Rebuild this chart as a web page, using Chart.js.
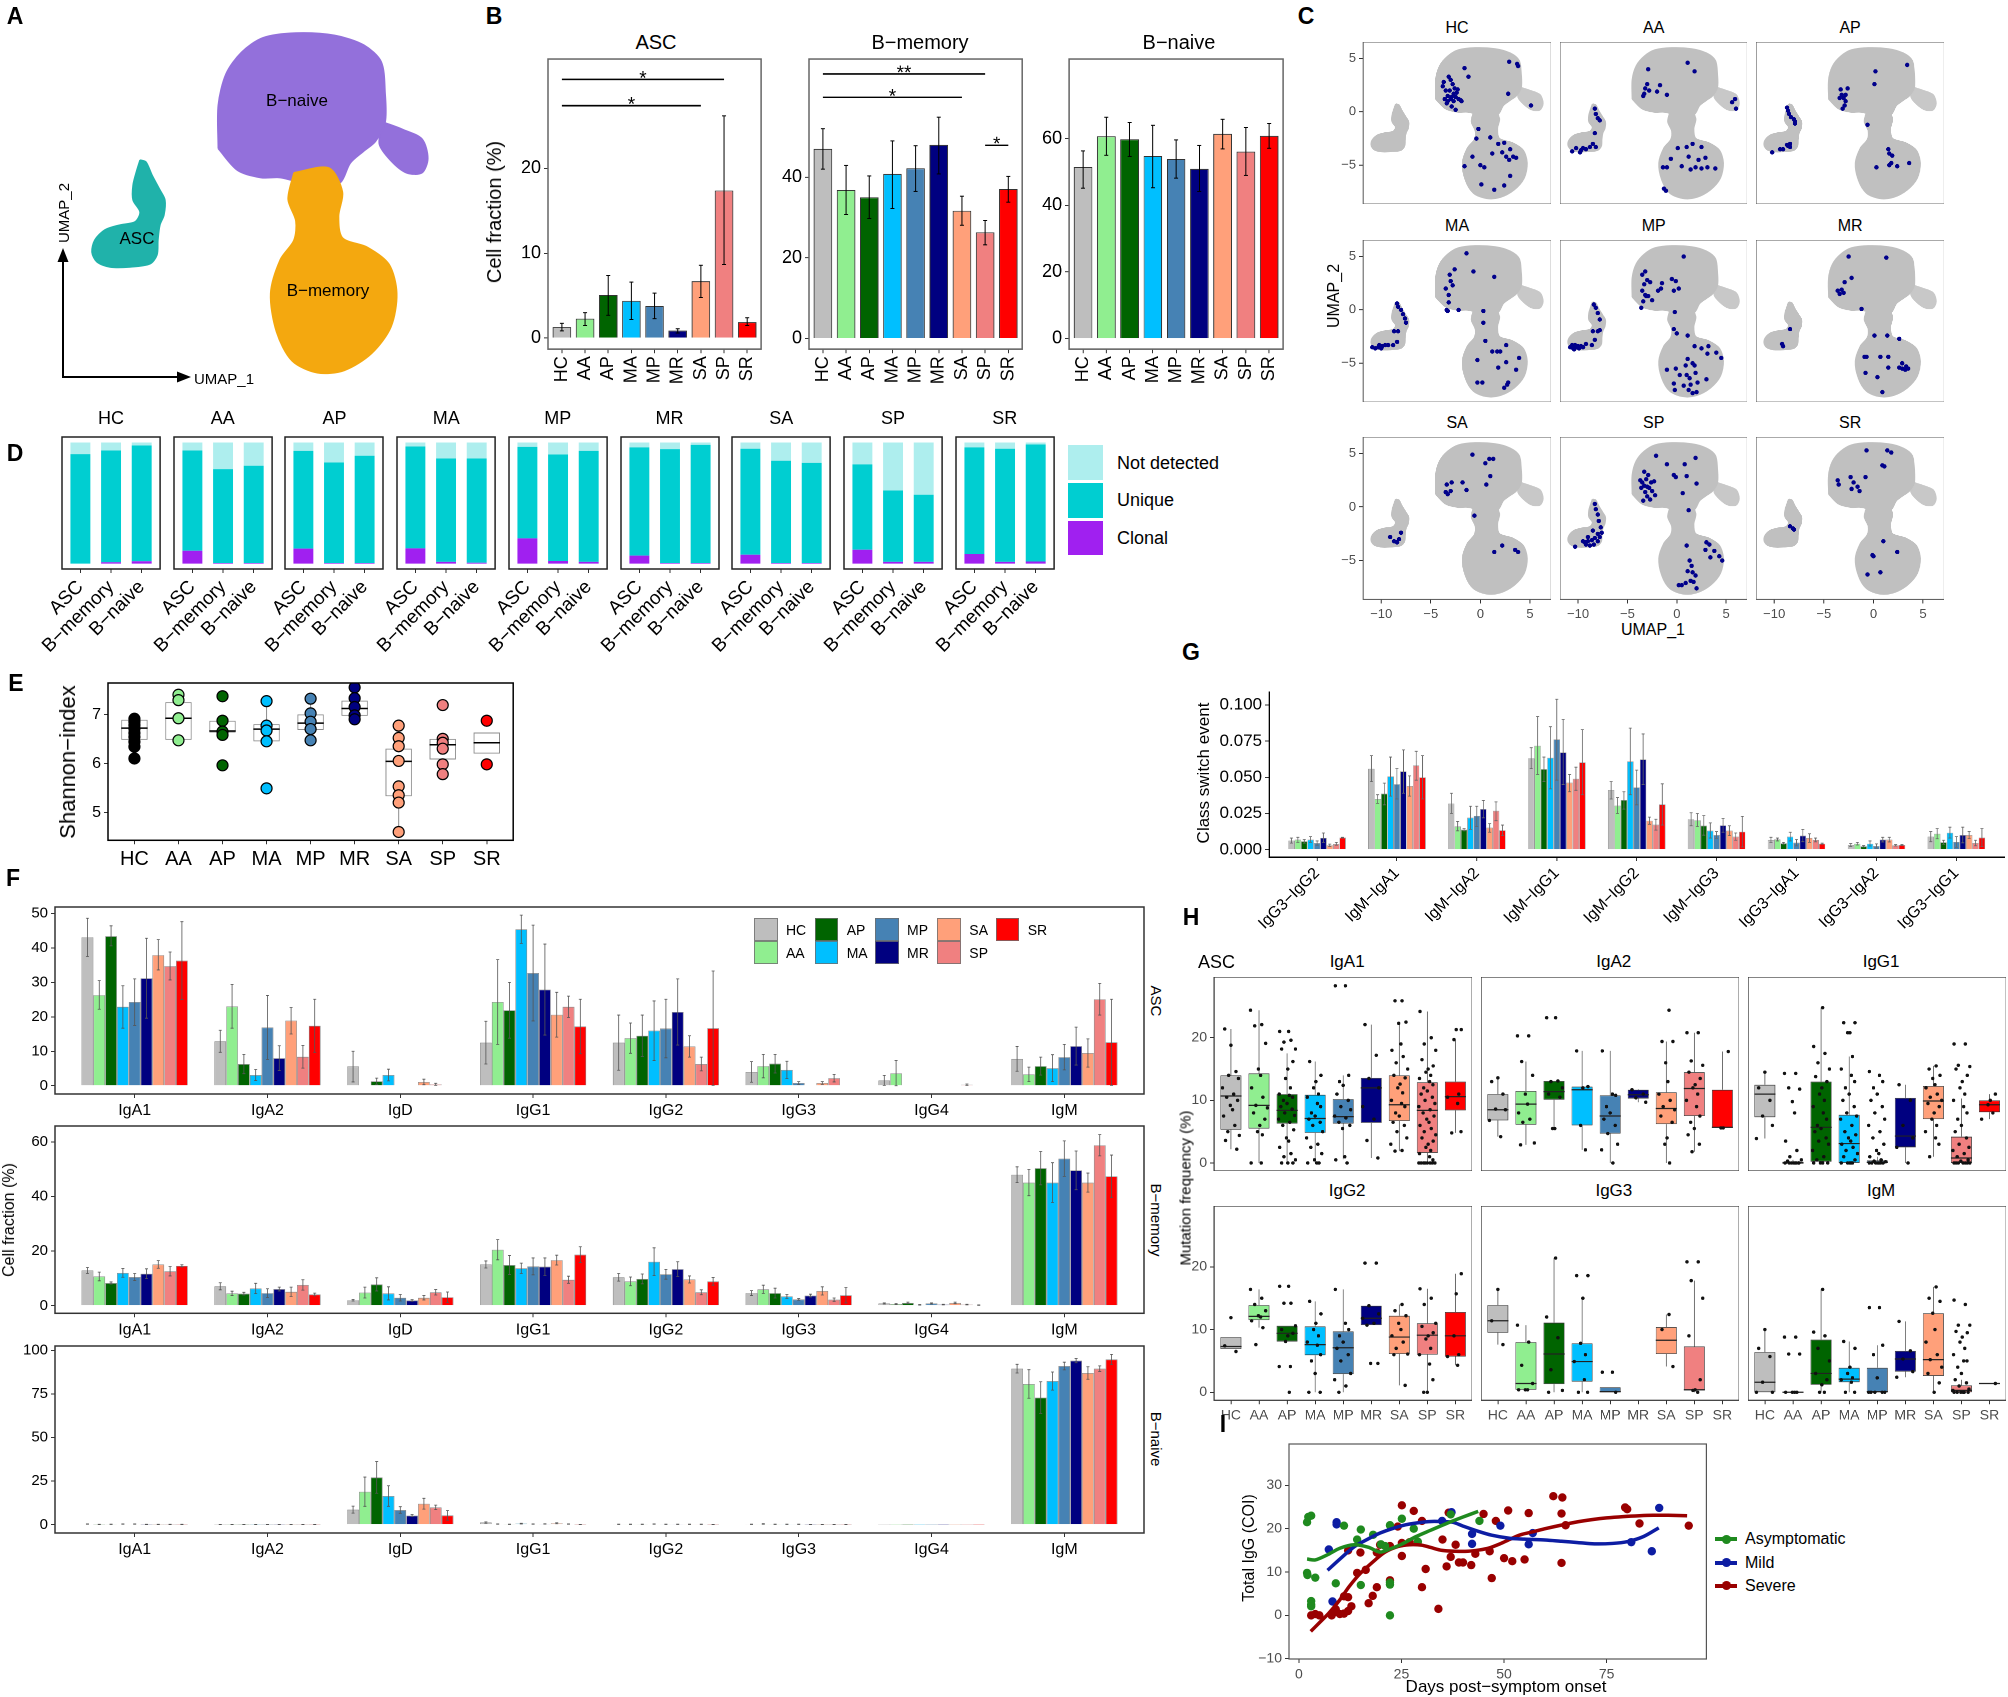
<!DOCTYPE html>
<html><head><meta charset="utf-8">
<script src="https://cdn.jsdelivr.net/npm/chart.js@4.4.1/dist/chart.umd.min.js"></script>
<style>
html,body{margin:0;padding:0;background:#fff;}
body{width:2008px;height:1697px;position:relative;overflow:hidden;font-family:"Liberation Sans",Arial,Helvetica,sans-serif;color:#000;}
.cv{position:absolute;}
.cv canvas{display:block;}
.t{position:absolute;white-space:nowrap;line-height:1;}
.k{position:absolute;box-sizing:border-box;}
</style></head><body>
<script>
// ================= DATA =================
const groups = ['HC','AA','AP','MA','MP','MR','SA','SP','SR'];
const groupColors = ['#BEBEBE','#90EE90','#006400','#00BFFF','#4682B4','#000080','#FFA07A','#F08080','#FF0000'];
const eColors = ['#000000','#90EE90','#006400','#00BFFF','#4682B4','#000080','#FFA07A','#F08080','#FF0000'];
const isotypes = ['IgA1','IgA2','IgD','IgG1','IgG2','IgG3','IgG4','IgM'];
const switchCats = ['IgG3−IgG2','IgM−IgA1','IgM−IgA2','IgM−IgG1','IgM−IgG2','IgM−IgG3','IgG3−IgA1','IgG3−IgA2','IgG3−IgG1'];
const dCells = ['ASC','B−memory','B−naive'];

// --- B: cell fraction per cluster ---
const bAsc = [1.3,2.3,5.1,4.4,3.8,0.9,6.7,17.4,1.9];
const bAscLo = [0.85,1.5,2.7,2.2,2.3,0.6,4.8,8.7,1.5];
const bAscHi = [1.75,3.0,7.4,6.6,5.3,1.1,8.6,26.2,2.4];
const bMem = [47.0,36.8,35.0,40.8,42.2,48.0,31.7,26.3,37.0];
const bMemLo = [42.0,30.7,29.7,32.3,36.5,40.8,28.1,23.2,33.8];
const bMemHi = [52.0,42.9,40.3,49.0,47.8,54.9,35.3,29.2,40.2];
const bNaive = [51.5,60.8,59.9,54.8,53.9,51.0,61.5,56.2,60.9];
const bNaiveLo = [45.2,55.1,54.7,45.3,48.2,44.2,57.0,49.0,57.2];
const bNaiveHi = [56.4,66.5,64.9,64.1,59.7,58.0,65.9,63.4,64.6];
const bAscSig = [{from:1,to:8,y:30.5,label:'*'},{from:1,to:7,y:27.4,label:'*'}];
const bMemSig = [{from:1,to:8,y:65.6,label:'**'},{from:1,to:7,y:59.8,label:'*'},{from:8,to:9,y:47.9,label:'*'}];

// --- D: clonality (per group: ASC, B-memory, B-naive) ---
const dClonal = [[0,1.2,2.0],[10.7,0.5,0.5],[12.4,0.5,0.5],[12.6,1.5,0.8],[20.9,2.2,1.5],[6.6,0.5,0.5],[7.4,0.5,0.5],[11.5,1.5,1.5],[8.0,1.5,1.8]];
const dUnique = [[90.4,92.2,95.5],[82.7,77.5,80.3],[80.7,83.0,88.5],[84.1,85.3,86.0],[75.5,87.9,91.6],[89.3,94.0,97.5],[87.4,84.4,82.7],[70.4,58.9,55.4],[87.9,93.3,96.5]];
const dNotDet = [[9.6,6.6,2.5],[6.6,22.0,19.2],[6.9,16.5,11.0],[3.3,13.2,13.2],[3.6,9.9,6.9],[4.1,5.5,2.0],[5.2,15.1,16.8],[18.1,39.6,43.1],[4.1,5.2,1.7]];

// --- E: Shannon index (q1, median, q3, whisker low, whisker high) ---
const eBox = [[6.48,6.72,6.89,6.10,6.91],[6.48,6.92,7.25,6.47,7.40],[6.63,6.66,6.87,6.58,6.87],[6.45,6.70,6.80,6.45,7.27],[6.68,6.82,7.00,6.47,7.32],[6.97,7.12,7.28,6.90,7.55],[5.33,6.04,6.30,4.60,6.77],[6.08,6.38,6.50,5.78,6.50],[6.20,6.42,6.63,6.20,6.63]];
const ePoints = [[6.91,6.85,6.78,6.71,6.62,6.54,6.44,6.34,6.10],[7.40,7.29,6.92,6.47],[7.37,6.87,6.65,6.58,5.96],[7.27,6.77,6.67,6.45,5.49],[7.32,7.02,6.85,6.70,6.47],[7.55,7.33,7.15,6.98,6.90],[6.77,6.52,6.35,6.05,5.53,5.35,5.20,4.60],[7.19,6.50,6.42,6.30,5.98,5.78],[6.87,5.98]];

// --- F: isotype fractions [isotype][group] ---
const fAscVal = [[43.1,26.3,43.4,22.9,24.3,31.2,37.9,34.7,36.3],[12.9,23.0,6.3,3.1,16.9,8.0,18.9,8.4,17.4],[5.6,0,1.3,3.1,0,0,1.1,0.4,0],[12.5,24.3,21.9,45.4,32.7,27.9,20.6,22.9,17.2],[12.5,13.8,14.5,16.0,16.6,21.4,11.4,6.3,16.7],[4.0,5.7,6.4,4.6,0.8,0,0.8,2.2,0],[1.5,3.6,0,0,0,0,0,0.3,0],[7.8,3.3,5.7,5.1,8.3,11.5,9.5,25.1,12.6]];
const fAscLo = [[37.5,22.2,40.6,16.7,17.5,19.6,33.6,30.7,25.0],[9.7,16.7,3.5,1.5,7.6,4.4,15.0,5.1,9.7],[1.1,0,0.4,1.4,0,0,0.3,0.1,0],[6.3,12.0,13.8,41.3,18.8,14.7,14.1,19.8,9.3],[4.5,9.4,8.5,7.3,8.1,11.8,8.3,4.3,0.1],[1.0,2.3,3.7,2.1,0.4,0,0.4,1.1,0],[0.1,0,0,0,0,0,0,0.1,0],[4.2,1.2,3.1,1.2,4.6,6.0,5.4,20.5,0.1]];
const fAscHi = [[48.6,30.5,46.4,29.0,31.0,42.8,42.4,38.8,47.6],[16.1,29.4,9.1,4.7,26.2,11.6,22.7,11.7,25.1],[10.0,0,2.2,4.8,0,0,1.9,0.7,0],[18.7,36.6,30.0,49.5,46.6,41.1,27.1,26.0,25.1],[20.5,18.2,20.5,24.6,25.1,31.0,14.5,8.3,33.3],[7.0,9.1,9.1,7.1,1.2,0,1.2,3.3,0],[3.0,7.3,0,0,0,0,0,0.5,0],[11.4,5.4,8.3,9.0,12.0,17.0,13.6,29.7,25.1]];
const fMemVal = [[12.9,10.7,8.3,12.0,10.5,11.7,15.1,12.6,14.6],[7.1,4.5,4.4,6.3,4.6,6.1,5.1,7.6,4.1],[2.0,4.8,7.8,4.5,2.9,1.9,2.9,4.9,3.1],[15.1,20.5,14.9,13.7,14.4,14.3,16.7,9.5,18.7],[10.4,8.9,9.8,16.1,11.5,13.4,9.6,4.9,8.9],[4.6,6.0,4.6,3.4,2.3,3.7,5.4,2.2,3.8],[0.8,0.6,1.0,0.3,0.8,0.4,1.0,0.4,0.2],[48.0,45.1,50.4,45.1,53.9,49.6,45.1,58.8,47.4]];
const fMemLo = [[11.8,9.1,7.9,10.4,9.2,9.9,13.7,10.9,14.2],[5.8,3.7,3.9,4.4,3.0,5.4,3.4,5.7,3.6],[1.7,2.8,5.4,2.1,1.7,1.6,2.1,3.9,1.2],[13.8,16.8,11.4,11.8,11.3,11.1,14.9,8.2,15.8],[9.0,7.3,8.0,11.0,9.7,10.7,8.3,4.0,7.5],[3.7,4.5,2.8,2.7,2.0,3.2,3.9,1.6,1.0],[0.6,0.4,0.7,0.2,0.6,0.3,0.7,0.3,0.1],[45.1,40.3,44.3,37.8,47.4,42.5,41.6,54.9,39.6]];
const fMemHi = [[14.0,12.3,8.7,13.6,11.8,13.5,16.5,14.3,15.0],[8.4,5.3,4.9,8.2,6.2,6.8,6.8,9.5,4.6],[2.3,6.8,10.2,6.9,4.1,2.2,3.7,5.9,5.0],[16.4,24.2,18.4,15.6,17.5,17.5,18.5,10.8,21.6],[11.8,10.5,11.6,21.2,13.3,16.1,10.9,5.8,10.3],[5.5,7.5,6.4,4.1,2.6,4.2,6.9,2.8,6.6],[1.0,0.8,1.3,0.4,1.0,0.5,1.3,0.5,0.3],[50.9,49.9,56.5,52.4,60.4,56.7,48.6,62.7,55.2]];
const fNaiveVal = [[0.3,0.1,0.2,0.3,0.3,0.1,0.1,0.1,0.1],[0.1,0.1,0.1,0.1,0.1,0.1,0.1,0.1,0.1],[8.6,18.9,27.1,16.4,8.4,5.2,12.0,9.9,5.3],[1.2,0.3,0.2,0.6,0.3,0.4,0.8,0.3,0.1],[0.2,0.2,0.2,0.3,0.2,0.2,0.2,0.2,0.1],[0.2,0.4,0.2,0.2,0.2,0.1,0.1,0.1,0.1],[0.05,0.05,0.05,0.05,0.05,0.05,0.05,0.05,0.05],[89.5,80.7,72.9,82.4,91.0,94.1,87.0,89.5,94.8]];
const fNaiveLo = [[0.2,0.05,0.1,0.2,0.2,0.05,0.05,0.05,0.05],[0.05,0.05,0.05,0.05,0.05,0.05,0.05,0.05,0.05],[6.6,10.5,18.0,10.5,6.5,4.6,8.9,8.6,2.5],[0.8,0.2,0.1,0.4,0.2,0.3,0.5,0.2,0.05],[0.1,0.1,0.1,0.2,0.1,0.1,0.1,0.1,0.05],[0.1,0.2,0.1,0.1,0.1,0.05,0.05,0.05,0.05],[0.05,0.05,0.05,0.05,0.05,0.05,0.05,0.05,0.05],[87.0,72.5,63.8,77.2,88.8,92.9,83.4,87.9,91.9]];
const fNaiveHi = [[0.4,0.2,0.3,0.4,0.4,0.2,0.2,0.2,0.2],[0.15,0.15,0.15,0.15,0.15,0.15,0.15,0.15,0.15],[10.6,27.3,36.2,22.3,10.3,5.8,15.1,11.2,8.1],[1.6,0.4,0.3,0.8,0.4,0.5,1.1,0.4,0.15],[0.3,0.3,0.3,0.4,0.3,0.3,0.3,0.3,0.15],[0.3,0.6,0.3,0.3,0.3,0.15,0.15,0.15,0.15],[0.05,0.05,0.05,0.05,0.05,0.05,0.05,0.05,0.05],[92.0,88.9,82.0,87.6,93.2,95.3,90.6,91.1,97.7]];

// --- G: class switch events [category][group] ---
const gVal = [[0.0062,0.0069,0.0058,0.0069,0.0046,0.0081,0.0030,0.0039,0.0083],[0.0559,0.0350,0.0387,0.0506,0.0453,0.0541,0.0440,0.0582,0.0500],[0.0318,0.0161,0.0138,0.0221,0.0233,0.0281,0.0152,0.0269,0.0134],[0.0631,0.0718,0.0557,0.0635,0.0762,0.0672,0.0463,0.0490,0.0603],[0.0412,0.0304,0.0343,0.0610,0.0430,0.0624,0.0200,0.0173,0.0313],[0.0210,0.0203,0.0166,0.0131,0.0101,0.0168,0.0131,0.0090,0.0124],[0.0067,0.0071,0.0044,0.0090,0.0048,0.0097,0.0081,0.0067,0.0041],[0.0032,0.0041,0.0023,0.0041,0.0025,0.0069,0.0069,0.0030,0.0032],[0.0090,0.0110,0.0051,0.0117,0.0053,0.0101,0.0101,0.0046,0.0083]];
const gLo = [[0.0045,0.005,0.0045,0.005,0.003,0.005,0.0022,0.003,0.008],[0.047,0.032,0.031,0.037,0.035,0.039,0.037,0.048,0.035],[0.025,0.013,0.013,0.014,0.016,0.022,0.012,0.020,0.0098],[0.056,0.052,0.047,0.042,0.048,0.045,0.040,0.041,0.038],[0.035,0.025,0.028,0.038,0.031,0.045,0.0175,0.0135,0.017],[0.0165,0.016,0.010,0.008,0.0078,0.012,0.0097,0.0065,0.0018],[0.005,0.006,0.0038,0.006,0.0026,0.0055,0.005,0.0054,0.0037],[0.0022,0.0032,0.0018,0.0025,0.001,0.0053,0.0053,0.0025,0.0029],[0.0055,0.0075,0.0037,0.008,0.0016,0.0047,0.0077,0.0027,0.0021]];
const gHi = [[0.008,0.0085,0.007,0.009,0.006,0.0115,0.0038,0.005,0.0085],[0.065,0.038,0.046,0.064,0.056,0.069,0.051,0.068,0.065],[0.039,0.0195,0.0145,0.030,0.030,0.034,0.018,0.033,0.017],[0.0705,0.092,0.064,0.085,0.104,0.090,0.052,0.057,0.083],[0.047,0.036,0.040,0.084,0.055,0.080,0.0225,0.021,0.0455],[0.0255,0.025,0.0235,0.0185,0.0125,0.0215,0.0165,0.0115,0.023],[0.0085,0.008,0.005,0.012,0.007,0.014,0.011,0.008,0.0045],[0.0042,0.005,0.0028,0.006,0.004,0.0085,0.0085,0.0035,0.0035],[0.0125,0.0145,0.0065,0.0155,0.009,0.0155,0.0125,0.0065,0.0145]];

// --- H: mutation frequency boxes per group: [q1, median, q3, whisker low, whisker high] ---
const hIgA1 = [[5.3,10.7,14.0,2.2,21.4],[5.5,9.2,14.3,0,24.4],[6.3,8.4,11.0,0,17.5],[4.8,7.1,10.9,0,16.2],[6.3,7.4,10.2,0.6,14.0],[6.4,12.0,13.6,0.8,22.1],[6.7,9.3,14.0,1.9,22.5],[1.6,8.4,12.9,0,24.2],[8.4,10.6,13.0,4.8,19.7]];
const hIgA2 = [[6.8,8.5,11.0,4.2,13.6],[6.1,9.4,11.5,2.9,16.2],[10.1,11.4,13.1,5.5,13.1],[6.0,11.7,12.2,2.1,17.9],[4.7,7.5,10.8,0,17.9],[10.3,10.9,11.7,9.7,11.8],[6.2,8.7,11.3,0,19.4],[7.5,11.9,14.5,1.8,20.8],[5.6,5.7,11.7,5.6,17.8]];
const hIgG1 = [[7.3,11.0,12.5,3.9,14.5],[0,0,0.2,0,0.5],[0.2,5.7,13.0,0,24.8],[0,3.1,7.7,0,17.0],[0,0.1,0.4,0,1.0],[2.5,4.3,10.4,0,12.5],[7.0,9.9,12.3,1.0,15.5],[0,0.8,4.2,0,10.3],[8.1,9.3,10.0,7.0,11.0]];
const hIgG2 = [[6.9,7.3,8.8,6.9,8.8],[11.5,12.1,13.9,10.3,16.4],[8.1,9.4,10.6,8.1,10.6],[5.9,7.6,10.5,0,14.5],[2.9,7.1,9.7,0,16.4],[10.7,11.8,13.8,10.7,13.8],[6.1,8.8,12.2,1.1,14.0],[6.0,9.1,11.0,0,16.5],[5.7,9.0,12.8,4.3,18.9]];
const hIgG3 = [[9.5,11.4,13.9,7.6,16.4],[0.4,1.4,8.0,0.4,10.7],[1.3,6.1,11.1,0,21.4],[1.7,4.9,7.8,0,15.0],[0,0.1,0.8,0,0.8],null,[6.1,8.3,10.4,4.1,12.4],[0.3,0.4,7.3,0,17.8],null];
const hIgM = [[0,1.6,6.4,0,10.0],[0,0,0.05,0,0],[1.2,3.0,8.4,0,16.4],[1.6,2.1,3.9,0,8.1],[0,0.1,3.9,0,7.5],[3.3,5.3,6.6,2.4,11.3],[2.6,5.2,12.6,0,16.8],[0,0.3,1.1,0,2.0],[1.4,1.4,1.4,1.4,1.4]];
const hIgA1Pts = [[18.8,21.4,14.6,14.0,13.5,12.0,11.0,10.5,10.0,9.2,8.5,7.5,6.0,5.0,4.4,3.6,2.2],[24.4,22.1,21.9,19.1,15.0,14.0,12.0,10.5,9.2,8.8,8.0,7.0,6.0,5.0,4.5,0,0],[21.0,21.0,19.6,19.3,18.2,18.2,16.2,15.0,13.5,12.0,11.0,10.8,10.5,10.0,9.5,9.0,8.6,8.0,7.6,7.0,6.5,6.0,5.3,4.0,3.5,2.5,1.5,1.0,0.5,0,0,0],[16.2,14.0,13.0,12.0,11.0,10.5,9.5,9.0,8.0,7.5,7.0,6.5,6.0,5.0,4.0,3.0,2.5,1.5,0.5,0,0,0],[28.3,28.3,14.0,13.0,12.4,11.0,10.0,9.0,8.5,7.5,7.2,6.5,6.0,5.5,1.0,0.5,0],[22.1,17.2,13.5,12.0,9.0,7.0,3.6,0.8],[25.9,25.9,22.5,22.3,19.0,18.0,17.0,16.0,15.0,14.0,13.6,12.6,12.0,11.2,10.0,9.5,9.0,8.0,7.5,6.5,6.0,5.0,4.0,3.0,2.0,1.9],[24.2,20.0,19.0,18.0,16.5,15.5,15.0,14.5,14.0,13.5,13.0,12.5,12.0,11.5,11.0,10.5,10.0,9.5,9.0,8.5,8.0,7.5,7.0,6.5,6.0,5.5,5.0,4.5,4.0,3.5,3.0,2.5,2.0,1.5,1.0,0.5,0,0,0,0,0,0,0,0],[21.3,21.3,19.7,11.0,10.5,9.5,5.0,4.8]];
const hIgA2Pts = [[13.6,13.0,11.0,8.6,8.5,6.8,4.2],[20.3,20.3,16.2,14.0,11.0,9.4,8.0,7.0,6.5,3.2,2.9],[23.2,23.2,13.1,13.0,12.0,11.0,10.5,5.5,5.5],[17.9,12.2,12.0,6.0,2.1],[17.9,11.0,10.8,9.0,8.0,7.0,6.0,4.7,3.0,2.1,0],[11.7,11.0,10.4,9.7],[24.4,19.4,19.4,16.0,13.0,11.0,10.0,9.0,8.5,7.5,6.5,4.0,3.0,0],[20.8,20.8,16.3,15.6,14.5,13.5,12.5,12.0,11.0,10.0,9.0,7.5,6.5,5.5,4.5,3.0,1.8],[17.8,5.6,5.6]];
const hIgG1Pts = [[14.5,12.0,10.0,7.5,6.0,3.9],[14.3,14.3,12.0,11.8,9.8,8.0,3.5,2.0,1.0,0.5,0.3,0,0,0,0,0,0,0,0],[24.8,18.6,17.5,16.0,15.0,13.8,13.0,12.0,11.0,10.0,9.0,8.0,7.0,6.0,5.5,5.0,4.0,3.5,3.0,2.0,1.0,0.5,0,0,0,0],[22.4,22.4,20.8,20.8,17.0,15.0,14.0,13.0,12.0,11.0,10.0,9.0,8.0,7.5,7.0,6.0,5.0,4.5,4.0,3.5,3.0,2.5,2.0,1.5,1.0,0.5,0,0,0,0,0],[14.6,14.0,13.0,12.0,11.0,10.0,9.0,8.0,7.0,6.0,5.0,4.0,3.0,2.0,1.5,1.0,0.5,0.3,0.2,0,0,0,0,0,0,0],[12.5,10.0,6.0,4.0,2.5,0],[15.5,15.0,14.0,13.5,12.5,12.0,11.0,10.5,10.0,9.5,9.0,8.0,7.0,6.0,5.0,4.0,3.0,1.0],[19.0,19.0,15.6,15.4,15.0,14.0,13.0,12.0,11.0,10.0,9.0,8.0,7.0,6.0,5.0,4.0,3.0,2.5,2.0,1.5,1.0,0.5,0.3,0,0,0,0,0,0,0],[11.0,10.0,9.3,8.0,7.0]];
const hIgG2Pts = [[11.9,7.4,6.5],[16.4,15.0,14.0,13.0,12.2,12.0,11.4,10.3,7.6],[16.9,16.9,14.2,14.2,10.6,10.0,9.4,9.0,8.1,4.1,4.1,0],[14.5,12.5,11.0,10.0,9.0,8.0,7.5,6.0,5.0,3.0,0,0],[16.4,11.0,10.0,9.0,8.0,7.0,6.0,5.0,3.0,2.0,1.0,0],[20.6,20.6,13.8,12.5,11.8,11.0,10.7,4.6,4.6],[14.0,13.0,12.2,11.0,10.0,9.0,8.0,7.0,6.1,6.0,1.1],[16.5,15.0,14.0,11.0,10.5,9.5,9.0,8.5,7.0,6.0,4.5,2.0,0,0],[18.9,15.7,9.0,6.0,5.7,4.3]];
const hIgG3Pts = [[16.4,11.4,7.6],[10.7,8.0,4.3,1.4,0.4,0.4,0.4],[21.4,12.0,8.7,3.6,0.3,0],[18.6,18.6,15.0,7.8,6.0,4.9,2.0,0,0],[3.2,3.2,0],[],[12.4,10.0,4.1],[20.8,20.8,17.8,15.0,9.0,2.0,0.4,0.3,0],[]];
const hIgMPts = [[10.0,7.0,5.7,1.6,0,0],[8.8,8.8,6.1,6.1,0,0,0,0],[16.4,9.6,9.0,7.0,5.0,3.0,2.0,1.2,0,0],[8.1,7.0,4.0,3.0,2.3,2.0,1.6,0,0],[13.5,13.5,7.5,6.0,2.3,0,0,0,0,0],[11.3,6.6,5.3,3.3,2.4],[16.8,15.0,14.5,12.6,10.0,8.0,6.0,5.2,4.0,3.0,1.5,0],[14.7,14.0,10.7,10.7,9.7,9.5,8.8,8.0,7.0,6.0,5.0,5.0,4.0,3.0,2.0,1.5,1.0,0.5,0.3,0,0,0,0,0,0],[1.4]];
const JIT = [0,-0.22,0.18,-0.08,0.27,-0.3,0.1,-0.15,0.24,-0.02,0.06,-0.26,0.14,-0.11,0.3,-0.19,0.21,0.03,-0.05,0.12,-0.28,0.08,0.2,-0.13];

// --- I: total IgG vs days [day, COI] ---
const iAsym = [[2,21.5],[2.3,22.7],[3,23.0],[2,9.8],[2.1,9.3],[4,8.7],[3,3.3],[3,2.5],[3,2.1],[9,7.4],[11,20.7],[14.2,17.5],[15.1,19.8],[15.1,7.0],[18.1,18.6],[20,16.4],[21,16.0],[22.2,7.6],[22.2,7.1],[22.2,20.8],[22.2,0],[25.1,22.3],[28,20.0],[29,17.0],[37,23.3],[44,21.8]];
const iMild = [[7.3,15.2],[9.2,21.5],[9.2,21.0],[8.2,3.2],[34.9,21.8],[37.2,23.8],[42.2,18.8],[42.2,16.5],[49.1,20.7],[56,16.4],[57,19.0],[81,16.9],[86,14.8],[87.8,24.8]];
const iSevere = [[3,0],[4,0.3],[5,0],[8,0],[9,0.8],[9,1.4],[10,0.3],[11,4.4],[12,4.2],[11,0.4],[12,1.0],[12.8,2.1],[12,15.0],[14.2,9.8],[15,14.5],[16.3,10.5],[18,4.5],[17,2.8],[19,6.5],[19,14.5],[19.8,16.3],[22.2,8.1],[22.2,16.0],[24.1,20.5],[25.1,25.4],[25.1,13.7],[25.1,16.7],[27,16.9],[28,24.1],[30,21.8],[30,6.5],[30.9,10.7],[34,1.5],[35,17.5],[36,11.3],[37,13.5],[36.5,23.7],[38.2,16.3],[39,12.2],[40,12.2],[42,11.6],[43,14.2],[45,23.4],[46.5,14.8],[47,8.6],[48,21.8],[50,13.2],[51,24.2],[52,12.5],[55,12.9],[56,23.6],[62,27.5],[64.2,27.2],[64,23.5],[64,12.1],[65,20.8],[79.5,24.9],[80,24.5],[83,21.2],[95,20.7]];
const iAsymFit = [[2,13.0],[4,12.8],[7,14.0],[10,15.5],[13.5,16.3],[17,15.7],[19.8,14.6],[22.4,15.4],[25,16.4],[28.6,18.2],[32,19.6],[36.2,21.3],[40,22.7],[43.7,24.0]];
const iMildFit = [[7,10.4],[10,13.0],[13.6,15.9],[17,17.7],[19.8,19.0],[23,20.1],[26,20.9],[30,21.5],[33,21.7],[37.4,21.5],[40,20.6],[43.7,19.4],[47,18.5],[51.3,17.8],[55,17.6],[60,17.4],[64,17.1],[68,16.8],[72,16.5],[76.4,16.6],[80,17.0],[84,18.2],[87.7,20.2]];
const iSevereFit = [[2.9,-3.7],[5,-1.7],[7.3,0.5],[10,3.6],[12.3,6.7],[15,9.7],[18.6,12.8],[21,14.6],[24.2,15.9],[27,16.3],[29.9,16.2],[32,15.7],[34.9,15.0],[38,14.8],[41.2,14.8],[44,15.1],[46.2,15.5],[49,16.5],[51.3,17.5],[54,18.6],[57.5,19.4],[60,20.0],[63.8,20.8],[68,21.6],[71.4,22.1],[75,22.5],[79,22.8],[83,23.0],[86.4,23.1],[90,23.1],[94.6,23.0]];

// --- A / C: UMAP cluster outlines (UMAP units) ---
const umapAsc = [[-8.53,0.73],[-8.23,0.65],[-7.92,0.11],[-7.51,-0.51],[-7.25,-0.93],[-7.30,-1.55],[-7.51,-1.97],[-7.61,-2.59],[-7.66,-3.21],[-8.02,-3.58],[-9.05,-3.71],[-10.08,-3.71],[-10.75,-3.50],[-11.01,-3.09],[-10.86,-2.59],[-10.34,-2.17],[-9.57,-1.97],[-8.79,-1.84],[-8.53,-1.43],[-8.89,-0.93],[-8.89,-0.31],[-8.69,0.32],[-8.53,0.73]];
const umapNaive = [[-4.5,1.2],[-4.5,3.0],[-4.1,4.3],[-3.3,5.2],[-2.2,5.8],[-0.5,6.0],[1.5,5.9],[3.0,5.5],[3.9,4.8],[4.1,3.5],[4.1,2.3],[3.6,1.5],[3.0,1.1],[2.3,0.6],[1.8,-0.2],[0.8,-0.4],[-0.3,-0.2],[-1.3,0.0],[-2.3,0.0],[-3.5,0.3],[-4.5,1.2]];
const umapLobe = [[4.0,2.3],[5.0,2.0],[6.0,1.6],[6.3,0.8],[6.0,0.2],[5.2,0.2],[4.4,0.7],[3.8,1.4],[4.0,2.3]];
const umapMemory = [[-0.6,0.2],[1.2,0.4],[1.9,-0.6],[1.7,-1.6],[1.9,-2.5],[3.2,-2.9],[4.3,-3.6],[4.7,-4.8],[4.4,-6.2],[3.4,-7.3],[2.0,-8.0],[0.6,-8.1],[-0.7,-7.6],[-1.5,-6.4],[-1.8,-4.8],[-1.3,-3.4],[-0.6,-2.6],[-0.5,-1.8],[-0.9,-0.9],[-0.6,0.2]];
const cHC = [[-3.8,2.4],[-3.5,2.0],[-3.3,1.5],[-3.0,1.2],[-2.7,1.0],[-2.5,1.4],[-3.2,3.3],[-3.0,3.0],[-2.8,2.6],[-2.6,2.2],[-2.4,1.8],[-2.2,1.2],[-2.0,1.1],[-3.6,1.2],[-3.4,0.8],[-2.9,0.5],[-2.5,0.2],[-3.1,2.0],[-2.7,1.7],[-3.3,1.0],[-2.3,2.1],[-1.9,1.0],[-3.7,2.8],[-2.9,1.4],[-1.6,4.1],[-1.2,3.3],[2.9,4.7],[3.7,4.5],[3.8,4.3],[2.8,1.7],[5.1,0.6],[-0.2,-1.6],[-0.4,-2.5],[1.0,-2.4],[2.4,-2.9],[1.8,-3.0],[3.0,-3.5],[2.2,-3.8],[2.6,-4.2],[3.3,-4.2],[2.9,-4.5],[3.6,-4.3],[1.2,-3.9],[-0.8,-4.2],[0.0,-5.0],[0.4,-5.2],[-1.6,-5.1],[3.0,-6.0],[1.4,-7.3],[0.1,-6.8],[2.4,-6.9]];
const cAA = [[-8.3,0.3],[-8.2,-0.2],[-8.0,-0.6],[-7.8,-0.8],[-8.3,-2.0],[-8.5,-3.0],[-8.2,-3.3],[-8.8,-3.3],[-9.2,-3.5],[-9.7,-3.6],[-10.2,-3.4],[-10.6,-3.7],[-9.8,-3.8],[-9.5,-3.4],[-3.0,2.6],[-3.2,2.2],[-3.3,1.7],[-3.4,1.5],[-2.8,2.0],[-2.0,1.9],[-1.7,2.5],[-1.0,1.6],[-2.9,4.0],[1.1,4.6],[1.8,3.8],[5.6,0.9],[5.9,1.2],[6.0,0.3],[0.1,-3.4],[1.0,-3.3],[1.6,-3.0],[2.5,-3.3],[-0.6,-4.4],[1.2,-4.2],[2.2,-4.5],[2.9,-4.3],[0.5,-5.1],[-1.4,-5.2],[-1.0,-5.2],[1.4,-5.4],[1.9,-5.2],[3.1,-5.2],[3.9,-5.3],[-1.3,-7.2],[-1.1,-7.4],[2.5,-5.3]];
const cAP = [[-8.7,0.4],[-8.6,0.1],[-8.5,-0.2],[-8.3,-0.5],[-8.0,-0.7],[-7.9,-0.9],[-7.9,-1.1],[-8.4,-3.0],[-8.4,-3.3],[-8.6,-3.2],[-9.1,-3.5],[-9.4,-3.5],[-10.2,-3.8],[-8.7,-3.1],[-3.3,2.1],[-3.2,1.6],[-3.0,1.3],[-2.8,1.6],[-2.6,2.2],[-2.9,0.6],[-3.1,0.3],[-2.8,1.0],[-3.4,1.3],[0.1,2.6],[0.2,3.8],[3.4,4.4],[-0.6,-1.2],[1.5,-3.5],[1.6,-3.9],[1.9,-4.1],[1.8,-4.8],[1.6,-5.0],[2.4,-5.1],[3.6,-4.8],[0.3,-5.2]];
const cMA = [[-8.4,0.6],[-8.3,0.3],[-8.0,0.0],[-7.8,-0.4],[-7.6,-0.8],[-7.5,-1.2],[-8.7,-2.0],[-8.3,-2.0],[-8.4,-3.0],[-8.8,-3.3],[-9.3,-3.3],[-9.6,-3.3],[-9.9,-3.4],[-10.3,-3.5],[-10.6,-3.6],[-10.9,-3.5],[-10.0,-3.6],[-10.2,-3.3],[-3.5,2.0],[-3.2,1.4],[-3.2,0.7],[-3.4,0.0],[-3.3,-0.1],[-2.6,3.8],[-3.1,3.3],[-2.8,2.3],[-3.0,2.7],[-2.2,0.0],[-1.4,5.3],[-0.7,3.6],[1.4,3.1],[0.3,-0.1],[0.3,-1.2],[0.5,-2.9],[1.2,-3.9],[1.7,-3.9],[2.0,-3.9],[2.6,-3.3],[-0.3,-4.7],[2.6,-4.9],[3.9,-4.5],[1.8,-5.4],[-0.3,-6.8],[0.2,-6.8],[2.8,-6.8],[2.4,-7.3],[2.7,-7.0],[3.6,-5.6]];
const cMP = [[-8.4,0.5],[-8.2,0.2],[-8.0,-0.3],[-7.8,-0.9],[-8.5,-2.0],[-8.0,-2.0],[-7.8,-1.9],[-8.3,-2.8],[-8.6,-3.3],[-9.2,-3.2],[-9.7,-3.4],[-10.1,-3.5],[-10.5,-3.6],[-10.8,-3.5],[-10.3,-3.3],[-10.6,-3.3],[-9.9,-3.6],[-9.5,-3.5],[-10.0,-3.4],[-10.4,-3.7],[-3.5,3.3],[-3.2,3.6],[-3.0,2.8],[-3.3,2.4],[-3.5,1.8],[-3.1,1.3],[-3.4,0.8],[-3.6,0.2],[-3.2,1.4],[-2.9,1.3],[-2.5,0.9],[-2.7,2.6],[-1.5,2.5],[-0.5,2.9],[-0.1,2.7],[-0.3,1.8],[0.2,2.0],[0.7,5.0],[-1.6,2.0],[-1.9,1.8],[-0.2,-0.2],[-0.3,-1.8],[0.0,-2.2],[1.1,-2.4],[1.8,-3.4],[2.5,-3.6],[3.2,-3.4],[3.1,-4.1],[4.0,-4.0],[4.5,-4.5],[1.1,-4.6],[1.8,-5.2],[0.9,-5.2],[1.6,-5.0],[-0.1,-5.5],[-1.0,-5.6],[0.3,-6.1],[1.0,-6.1],[1.9,-5.9],[1.3,-6.4],[2.1,-6.8],[3.0,-6.5],[-0.3,-6.9],[0.7,-7.1],[1.2,-7.5],[1.6,-7.8],[2.0,-7.7],[1.4,-7.0],[-0.2,-7.5]];
const cMR = [[-8.4,-1.8],[-9.2,-3.2],[-9.1,-3.4],[-2.5,5.0],[1.3,4.9],[-2.2,3.0],[-2.9,2.6],[-3.6,1.8],[-3.2,1.9],[-3.0,1.6],[-3.4,1.5],[-1.2,0.1],[0.1,-2.4],[1.4,-2.4],[2.6,-2.7],[-0.7,-4.4],[-0.9,-4.4],[0.7,-4.4],[1.5,-4.4],[-0.8,-5.9],[0.4,-6.3],[2.6,-5.4],[2.9,-5.5],[3.2,-5.6],[3.3,-5.3],[3.5,-5.5],[2.9,-5.0],[0.9,-7.7],[1.5,-5.4]];
const cSA = [[-9.1,-2.8],[-8.7,-3.2],[-8.4,-3.3],[-8.2,-3.0],[-8.0,-2.4],[-3.4,2.1],[-3.5,1.4],[-3.3,1.2],[-2.9,2.3],[-3.0,1.5],[-1.8,2.3],[-1.4,1.6],[-0.8,4.9],[0.5,4.1],[0.9,4.5],[1.3,4.5],[1.0,2.9],[0.6,2.1],[-0.6,-0.8],[1.4,-4.2],[2.2,-3.6],[3.5,-4.0],[3.8,-4.2]];
const cSP = [[-8.3,0.3],[-8.2,-0.2],[-8.0,-0.7],[-7.9,-1.3],[-7.7,-1.9],[-7.6,-2.4],[-8.0,-2.5],[-8.3,-2.9],[-8.6,-3.1],[-9.0,-3.2],[-9.3,-3.3],[-9.5,-3.2],[-9.2,-3.5],[-8.8,-3.6],[-8.4,-3.5],[-8.0,-3.2],[-10.3,-3.7],[-7.8,-2.8],[-8.5,-2.2],[-9.0,-2.8],[-3.5,2.3],[-3.3,2.0],[-3.1,2.6],[-2.9,3.0],[-2.8,1.8],[-3.2,1.4],[-3.0,1.0],[-3.4,0.6],[-2.7,0.7],[-2.6,2.3],[-3.3,3.3],[-3.0,1.9],[-2.5,1.5],[-3.6,1.8],[-3.7,2.5],[-2.3,2.4],[-2.2,1.1],[-2.1,4.8],[-1.0,4.0],[-0.3,3.0],[-0.1,2.8],[0.6,1.3],[1.0,2.9],[0.8,4.0],[1.9,4.6],[2.0,2.2],[1.2,-0.3],[1.0,-3.6],[3.0,-3.3],[3.3,-3.5],[2.9,-4.0],[3.8,-4.1],[3.4,-4.7],[4.3,-4.6],[4.6,-5.0],[1.3,-5.0],[1.5,-5.5],[1.1,-6.0],[1.6,-6.1],[1.9,-6.4],[1.4,-6.9],[0.9,-7.1],[0.5,-7.3],[0.2,-7.3],[2.0,-7.6],[1.7,-7.0]];
const cSR = [[-8.4,-1.8],[-8.1,-2.0],[-8.0,-2.1],[-3.6,2.5],[-3.5,2.1],[-2.3,2.8],[-2.0,2.3],[-1.6,1.9],[-1.4,1.5],[-2.2,1.7],[-0.7,5.3],[-0.8,2.8],[1.4,5.3],[1.8,5.1],[0.9,3.9],[1.1,3.8],[1.0,-3.2],[-0.1,-4.5],[0.0,-4.6],[2.4,-4.2],[-0.6,-6.3],[0.7,-6.1]];

// ================= HELPERS =================
const FONT = '"Liberation Sans", Arial, Helvetica, sans-serif';
Chart.defaults.font.family = FONT;
Chart.defaults.color = '#000';

function T(s, x, y, o) {
  o = o || {};
  const d = document.createElement('div');
  d.className = 't'; d.textContent = s;
  d.style.fontSize = (o.size || 16) + 'px';
  if (o.bold) d.style.fontWeight = 'bold';
  if (o.color) d.style.color = o.color;
  const ax = (o.ax === undefined) ? 0.5 : o.ax, ay = (o.ay === undefined) ? 0.5 : o.ay;
  d.style.left = x + 'px'; d.style.top = y + 'px';
  d.style.transformOrigin = '0 0';
  d.style.transform = 'rotate(' + (o.rot || 0) + 'deg) translate(' + (-ax * 100) + '%,' + (-ay * 100) + '%)';
  document.body.appendChild(d);
}
function K(x, y, w, h, bg, extra) {
  const d = document.createElement('div'); d.className = 'k';
  Object.assign(d.style, {left: x + 'px', top: y + 'px', width: w + 'px', height: h + 'px', background: bg}, extra || {});
  document.body.appendChild(d);
}
const minus = v => (v < 0 ? '−' + Math.abs(v) : String(v));
function ax(min, max, ticks, o) {
  o = o || {};
  return {
    type: 'linear', min: min, max: max, offset: false, bounds: 'data',
    afterBuildTicks: s => { s.ticks = ticks.map(v => ({value: v})); },
    ticks: {display: o.show !== false, autoSkip: false, font: {size: o.font || 15}, color: o.color || '#000', padding: 3,
      minRotation: o.rot || 0, maxRotation: o.rot || 0,
      callback: (v, i) => (o.labels ? o.labels[i] : (o.fmt ? o.fmt(v) : minus(v)))},
    grid: {display: o.marks !== false, drawOnChartArea: false, drawTicks: true, tickLength: 4, tickColor: '#333', tickWidth: 1, offset: false},
    border: {display: !!o.border, color: '#000', width: 1.5}
  };
}
function mk(area, m, cfg) {
  const x0 = area[0], y0 = area[1], x1 = area[2], y1 = area[3];
  const l = m[0], t = m[1], r = m[2], b = m[3];
  const d = document.createElement('div'); d.className = 'cv';
  Object.assign(d.style, {left: (x0 - l) + 'px', top: (y0 - t) + 'px', width: (x1 - x0 + l + r) + 'px', height: (y1 - y0 + t + b) + 'px'});
  const c = document.createElement('canvas'); d.appendChild(c); document.body.appendChild(d);
  const o = cfg.options || (cfg.options = {});
  Object.assign(o, {responsive: true, maintainAspectRatio: false, animation: false, devicePixelRatio: 2, events: []});
  o.layout = {padding: {left: 0, top: t, right: r, bottom: 0}, autoPadding: false};
  o.plugins = Object.assign({legend: {display: false}, tooltip: {enabled: false}, title: {display: false}}, o.plugins || {});
  const zero = s => { s.paddingLeft = 0; s.paddingRight = 0; s.paddingTop = 0; s.paddingBottom = 0; };
  o.scales.x.afterFit = s => { s.height = b; zero(s); };
  o.scales.y.afterFit = s => { s.width = l; zero(s); };
  o.scales.x.display = true; o.scales.y.display = true;
  return new Chart(c, cfg);
}
const seq = n => Array.from({length: n}, (_, i) => i + 1);

// plugins
Chart.register({
  id: 'frame',
  afterDatasetsDraw(ch, args, opt) {
    if (!opt || !opt.color) return;
    const a = ch.chartArea, c = ch.ctx;
    c.save(); c.strokeStyle = opt.color; c.lineWidth = opt.width || 1;
    c.strokeRect(a.left, a.top, a.right - a.left, a.bottom - a.top); c.restore();
  }
});
Chart.register({
  id: 'errbars',
  afterDatasetsDraw(ch) {
    const c = ch.ctx, ys = ch.scales.y;
    ch.data.datasets.forEach((ds, di) => {
      if (!ds.errLo) return;
      const meta = ch.getDatasetMeta(di);
      c.save(); c.strokeStyle = ds.errColor || '#000'; c.lineWidth = ds.errWidth || 1;
      meta.data.forEach((el, i) => {
        const lo = ds.errLo[i], hi = ds.errHi[i];
        if (lo == null || hi == null || hi <= lo) return;
        const x = el.x, a = ys.getPixelForValue(lo), b = ys.getPixelForValue(hi), w = ds.errCap || 2;
        c.beginPath(); c.moveTo(x, a); c.lineTo(x, b);
        c.moveTo(x - w, a); c.lineTo(x + w, a); c.moveTo(x - w, b); c.lineTo(x + w, b); c.stroke();
      });
      c.restore();
    });
  }
});
Chart.register({
  id: 'sig',
  afterDatasetsDraw(ch) {
    const c = ch.ctx, xs = ch.scales.x, ys = ch.scales.y;
    ch.data.datasets.forEach(ds => {
      if (!ds.sig) return;
      c.save(); c.strokeStyle = '#000'; c.fillStyle = '#000'; c.lineWidth = 1.6;
      c.font = '19px ' + FONT; c.textAlign = 'center'; c.textBaseline = 'alphabetic';
      ds.sig.forEach(it => {
        const a = xs.getPixelForValue(it.from), b = xs.getPixelForValue(it.to), y = ys.getPixelForValue(it.y);
        c.beginPath(); c.moveTo(a, y); c.lineTo(b, y); c.stroke();
        c.fillText(it.label, (a + b) / 2, y + 5);
      });
      c.restore();
    });
  }
});
Chart.register({
  id: 'boxw',
  beforeDatasetDraw(ch, args) {
    const ds = ch.data.datasets[args.index]; if (!ds.box) return;
    const ys = ch.scales.y, c = ch.ctx;
    c.save(); c.strokeStyle = ds.box.whiskColor || '#000'; c.lineWidth = ds.box.whiskWidth || 1;
    args.meta.data.forEach((el, i) => {
      const q = ds.data[i].y, x = el.x;
      c.beginPath();
      c.moveTo(x, ys.getPixelForValue(q[1])); c.lineTo(x, ys.getPixelForValue(ds.box.hi[i]));
      c.moveTo(x, ys.getPixelForValue(q[0])); c.lineTo(x, ys.getPixelForValue(ds.box.lo[i]));
      c.stroke();
    });
    c.restore();
  },
  afterDatasetDraw(ch, args) {
    const ds = ch.data.datasets[args.index]; if (!ds.box) return;
    const ys = ch.scales.y, c = ch.ctx;
    c.save(); c.strokeStyle = ds.box.medColor || '#000'; c.lineWidth = ds.box.medWidth || 1.5;
    args.meta.data.forEach((el, i) => {
      const y = ys.getPixelForValue(ds.box.med[i]);
      c.beginPath(); c.moveTo(el.x - el.width / 2, y); c.lineTo(el.x + el.width / 2, y); c.stroke();
    });
    c.restore();
  }
});
Chart.register({
  id: 'arrows',
  afterDraw(ch, args, opt) {
    if (!opt || !opt.on) return;
    const c = ch.ctx;
    c.save(); c.strokeStyle = '#000'; c.fillStyle = '#000'; c.lineWidth = 2;
    c.beginPath(); c.moveTo(63, 378); c.lineTo(63, 258); c.moveTo(62, 377); c.lineTo(180, 377); c.stroke();
    c.beginPath(); c.moveTo(63, 248); c.lineTo(57.5, 262); c.lineTo(68.5, 262); c.closePath(); c.fill();
    c.beginPath(); c.moveTo(191, 377); c.lineTo(177, 371.5); c.lineTo(177, 382.5); c.closePath(); c.fill();
    c.restore();
  }
});
function poly(pts, col, order) {
  return {type: 'line', data: pts.map(p => ({x: p[0], y: p[1]})), fill: 'shape', backgroundColor: col, borderColor: col,
    borderWidth: 1.5, pointRadius: 0, tension: 0.3, order: order || 5};
}

// ================= PANEL A =================
mk([0, 0, 480, 400], [0, 0, 0, 0], {type: 'scatter', data: {datasets: [
  poly(umapNaive, '#9370DB', 6), poly(umapLobe, '#9370DB', 6), poly(umapMemory, '#F4A80F', 5), poly(umapAsc, '#20B2AA', 5)
]}, options: {scales: {x: ax(-15.75, 8.99, [], {show: false, marks: false}), y: ax(-9.23, 7.37, [], {show: false, marks: false})}, plugins: {arrows: {on: true}}}});
T('A', 15, 16, {size: 23, bold: true});
T('B−naive', 297, 100, {size: 17});
T('ASC', 137, 238, {size: 17});
T('B−memory', 328, 290, {size: 17});
T('UMAP_1', 194, 378, {size: 15, ax: 0});
T('UMAP_2', 63, 213, {size: 15, rot: -90});

// ================= PANEL B =================
function bChart(area, vals, lo, hi, ymin, ymax, yt, sig) {
  return mk(area, [50, 5, 5, 45], {type: 'bar', data: {datasets: [{
    data: vals.map((v, i) => ({x: i + 1, y: v})), backgroundColor: groupColors, borderColor: '#333', borderWidth: 1,
    categoryPercentage: 0.8, barPercentage: 1, errLo: lo, errHi: hi, errColor: '#000', errWidth: 1, errCap: 2, sig: sig
  }]}, options: {scales: {x: ax(0.4, 9.6, seq(9), {labels: groups, rot: 90, font: 18}), y: ax(ymin, ymax, yt, {font: 18})},
    plugins: {frame: {color: '#666', width: 1.5}}}});
}
bChart([547.7, 59.3, 760.8, 349], bAsc, bAscLo, bAscHi, -1.3, 32.9, [0, 10, 20], bAscSig);
bChart([808.5, 59.3, 1021.7, 349], bMem, bMemLo, bMemHi, -2.65, 69.3, [0, 20, 40], bMemSig);
bChart([1069.4, 59.3, 1283, 349], bNaive, bNaiveLo, bNaiveHi, -3.2, 84.0, [0, 20, 40, 60], null);
T('B', 494, 16, {size: 23, bold: true});
T('ASC', 656, 42, {size: 20});
T('B−memory', 920, 42, {size: 20});
T('B−naive', 1179, 42, {size: 20});
T('Cell fraction (%)', 494, 212, {size: 20, rot: -90});

// ================= PANEL C =================
const cCols = [[1363.2, 1551.0], [1560.0, 1747.4], [1756.4, 1943.8]];
const cRows = [[41.5, 204.0], [239.6, 402.2], [436.6, 599.5]];
const cDots = [cHC, cAA, cAP, cMA, cMP, cMR, cSA, cSP, cSR];
cDots.forEach((dots, i) => {
  const col = i % 3, row = Math.floor(i / 3);
  const area = [cCols[col][0], cRows[row][0], cCols[col][1], cRows[row][1]];
  mk(area, [col === 0 ? 28 : 0, 0, 0, row === 2 ? 20 : 0], {type: 'scatter', data: {datasets: [
    {type: 'scatter', data: dots.map(p => ({x: p[0], y: p[1]})), backgroundColor: '#00008B', borderWidth: 0, pointRadius: 2.2, order: 0},
    poly(umapAsc, '#C0C0C0'), poly(umapNaive, '#C0C0C0'), poly(umapLobe, '#C8C8C8'), poly(umapMemory, '#C0C0C0')
  ]}, options: {scales: {
    x: ax(-11.83, 7.15, row === 2 ? [-10, -5, 0, 5] : [], {show: row === 2, marks: row === 2, font: 13, color: '#4D4D4D'}),
    y: ax(-8.64, 6.55, col === 0 ? [-5, 0, 5] : [], {show: col === 0, marks: col === 0, font: 13, color: '#4D4D4D'})
  }, plugins: {frame: {color: '#555', width: 1}}}});
  T(groups[i], (cCols[col][0] + cCols[col][1]) / 2, cRows[row][0] - 14, {size: 16});
});
T('C', 1306, 16, {size: 23, bold: true});
T('UMAP_1', 1653, 630, {size: 16});
T('UMAP_2', 1334, 296, {size: 16, rot: -90});

// ================= PANEL D =================
const dX0 = [61.9, 173.6, 285.4, 397.1, 508.8, 620.6, 732.3, 844.0, 955.8];
const dX1 = [160.0, 271.7, 383.4, 495.2, 606.9, 718.6, 830.4, 942.1, 1053.9];
groups.forEach((g, gi) => {
  const mkds = (arr, col) => ({data: arr[gi].map((v, i) => ({x: i + 1, y: v})), backgroundColor: col, borderWidth: 0, categoryPercentage: 0.65, barPercentage: 1});
  const xs = ax(0.4, 3.6, [1, 2, 3], {labels: dCells, rot: 45, font: 19}); xs.stacked = true;
  const ys = ax(-4.4, 104.5, [], {show: false, marks: false}); ys.stacked = true;
  mk([dX0[gi], 437.3, dX1[gi], 569.3], [60, 2, 5, 115], {type: 'bar', data: {datasets: [
    mkds(dClonal, '#A020F0'), mkds(dUnique, '#00CED1'), mkds(dNotDet, '#AEEEEE')
  ]}, options: {scales: {x: xs, y: ys}, plugins: {frame: {color: '#222', width: 1.5}}}});
  T(g, (dX0[gi] + dX1[gi]) / 2, 418, {size: 18});
});
T('D', 15, 453, {size: 23, bold: true});
K(1067.5, 445, 35.5, 35, '#AEEEEE');
K(1067.5, 483, 35.5, 35, '#00CED1');
K(1067.5, 521, 35.5, 34, '#A020F0');
T('Not detected', 1117, 463, {size: 18, ax: 0});
T('Unique', 1117, 500, {size: 18, ax: 0});
T('Clonal', 1117, 538, {size: 18, ax: 0});

// ================= PANEL E =================
(function () {
  const pts = [], cols = [];
  ePoints.forEach((arr, gi) => arr.forEach(v => { pts.push({x: gi + 1, y: v}); cols.push(eColors[gi]); }));
  mk([107.7, 682.7, 512.9, 840], [40, 5, 5, 40], {type: 'bar', data: {datasets: [
    {type: 'scatter', data: pts, backgroundColor: cols, borderColor: '#000', borderWidth: 1.2, pointRadius: 5.5, order: 0},
    {type: 'bar', data: eBox.map((b, i) => ({x: i + 1, y: [b[0], b[2]]})), backgroundColor: '#fff', borderColor: '#8C8C8C', borderWidth: 1,
      borderSkipped: false, categoryPercentage: 0.6, barPercentage: 1, order: 1,
      box: {med: eBox.map(b => b[1]), lo: eBox.map(b => b[3]), hi: eBox.map(b => b[4]), medColor: '#000', medWidth: 1.5, whiskColor: '#8C8C8C', whiskWidth: 1}}
  ]}, options: {scales: {x: ax(0.4, 9.6, seq(9), {labels: groups, font: 20}), y: ax(4.43, 7.64, [5, 6, 7], {font: 16})},
    plugins: {frame: {color: '#000', width: 1.5}}}});
})();
T('E', 16, 683, {size: 23, bold: true});
T('Shannon−index', 68, 762, {size: 22, rot: -90});

// ================= PANEL F =================
function fChart(area, val, lo, hi, ymin, ymax, yt) {
  const ds = groups.map((g, gi) => ({
    data: val.map((row, ci) => ({x: ci + 1, y: row[gi]})),
    errLo: lo.map(r => r[gi]), errHi: hi.map(r => r[gi]),
    backgroundColor: groupColors[gi], borderColor: 'rgba(90,90,90,0.7)', borderWidth: 0.7,
    categoryPercentage: 0.8, barPercentage: 1, errColor: '#555', errWidth: 0.8, errCap: 1.5
  }));
  return mk(area, [42, 2, 2, 26], {type: 'bar', data: {datasets: ds}, options: {scales: {
    x: ax(0.4, 8.6, seq(8), {labels: isotypes, font: 16}), y: ax(ymin, ymax, yt, {font: 15})
  }, plugins: {frame: {color: '#333', width: 1.5}}}});
}
fChart([55, 907.3, 1144, 1094.3], fAscVal, fAscLo, fAscHi, -2.4, 51.86, [0, 10, 20, 30, 40, 50]);
fChart([55, 1126, 1144, 1313.3], fMemVal, fMemLo, fMemHi, -2.8, 65.85, [0, 20, 40, 60]);
fChart([55, 1345.7, 1144, 1532.7], fNaiveVal, fNaiveLo, fNaiveHi, -4.8, 102.5, [0, 25, 50, 75, 100]);
T('F', 13, 878, {size: 23, bold: true});
T('Cell fraction (%)', 9, 1220, {size: 16, rot: -90});
T('ASC', 1156, 1001, {size: 15, rot: 90});
T('B−memory', 1156, 1220, {size: 15, rot: 90});
T('B−naive', 1156, 1439, {size: 15, rot: 90});
// F legend (two rows, five columns)
const legOrder = [[0, 1], [2, 3], [4, 5], [6, 7], [8]];
const legX = [754.0, 814.7, 875.0, 937.3, 995.7];
legOrder.forEach((colIdx, c) => colIdx.forEach((gi, r) => {
  const y = 918.3 + r * 23.0;
  K(legX[c], y, 23.5, 23.0, groupColors[gi], {border: '1px solid rgba(110,110,110,0.8)'});
  T(groups[gi], legX[c] + 32, y + 11.5, {size: 14, ax: 0});
}));

// ================= PANEL G =================
(function () {
  const ds = groups.map((g, gi) => ({
    data: gVal.map((row, ci) => ({x: ci + 1, y: row[gi]})),
    errLo: gLo.map(r => r[gi]), errHi: gHi.map(r => r[gi]),
    backgroundColor: groupColors[gi], borderColor: 'rgba(110,110,110,0.7)', borderWidth: 0.6,
    categoryPercentage: 0.72, barPercentage: 1, errColor: '#666', errWidth: 0.8, errCap: 1.5
  }));
  mk([1269.3, 691.7, 2003.6, 856.7], [62, 3, 3, 75], {type: 'bar', data: {datasets: ds}, options: {scales: {
    x: ax(0.4, 9.6, seq(9), {labels: switchCats, rot: 45, font: 16, border: true}),
    y: ax(-0.0051, 0.109, [0, 0.025, 0.05, 0.075, 0.1], {font: 17, fmt: v => v.toFixed(3), border: true})
  }}});
})();
T('G', 1191, 652, {size: 23, bold: true});
T('Class switch event', 1203, 773, {size: 17, rot: -90});

// ================= PANEL H =================
function hChart(area, m, boxes, pts, showX, showY) {
  const present = [];
  boxes.forEach((b, i) => { if (b) present.push(i); });
  const sc = [];
  pts.forEach((arr, gi) => arr.forEach((v, k) => sc.push({x: gi + 1 + JIT[(k + gi * 5) % JIT.length], y: v})));
  mk(area, m, {type: 'bar', data: {datasets: [
    {type: 'scatter', data: sc, backgroundColor: '#111', borderWidth: 0, pointRadius: 1.7, order: 0},
    {type: 'bar', data: present.map(i => ({x: i + 1, y: [boxes[i][0], boxes[i][2]]})), backgroundColor: present.map(i => groupColors[i]),
      borderColor: '#333', borderWidth: 0.8, borderSkipped: false, categoryPercentage: 0.75, barPercentage: 1, order: 1,
      box: {med: present.map(i => boxes[i][1]), lo: present.map(i => boxes[i][3]), hi: present.map(i => boxes[i][4]), medColor: '#222', medWidth: 1.2, whiskColor: '#444', whiskWidth: 0.8}}
  ]}, options: {scales: {
    x: ax(0.4, 9.6, showX ? seq(9) : [], {labels: groups, show: showX, marks: showX, font: 14, color: '#4D4D4D'}),
    y: ax(-1.28, 29.7, showY ? [0, 10, 20] : [], {show: showY, marks: showY, font: 14, color: '#4D4D4D'})
  }, plugins: {frame: {color: '#333', width: 1.2}}}});
}
const hCols = [[1214.3, 1472.0], [1481.0, 1738.7], [1748.2, 2006.0]];
const hRows = [[976.7, 1170.7], [1205.7, 1400.0]];
const hBoxes = [hIgA1, hIgA2, hIgG1, hIgG2, hIgG3, hIgM];
const hPts = [hIgA1Pts, hIgA2Pts, hIgG1Pts, hIgG2Pts, hIgG3Pts, hIgMPts];
const hNames = ['IgA1', 'IgA2', 'IgG1', 'IgG2', 'IgG3', 'IgM'];
hBoxes.forEach((bx, i) => {
  const col = i % 3, row = Math.floor(i / 3);
  hChart([hCols[col][0], hRows[row][0], hCols[col][1], hRows[row][1]], [col === 0 ? 28 : 0, 0, 0, row === 1 ? 24 : 0], bx, hPts[i], row === 1, col === 0);
  T(hNames[i], (hCols[col][0] + hCols[col][1]) / 2 + 4, hRows[row][0] - 16, {size: 17});
});
T('H', 1191, 917, {size: 23, bold: true});
T('ASC', 1198, 962, {size: 18, ax: 0});
T('Mutation frequency (%)', 1185, 1188, {size: 15, rot: -90});

// ================= PANEL I =================
(function () {
  const P = a => a.map(p => ({x: p[0], y: p[1]}));
  const curve = (a, col) => ({type: 'line', data: P(a), borderColor: col, borderWidth: 3.5, pointRadius: 0, tension: 0.3, fill: false, order: 0});
  mk([1289.1, 1444.3, 1706.5, 1659.3], [32, 5, 5, 22], {type: 'scatter', data: {datasets: [
    curve(iAsymFit, '#1F8A1F'), curve(iMildFit, '#0D1DA3'), curve(iSevereFit, '#990000'),
    {data: P(iAsym), backgroundColor: '#1F8A1F', borderWidth: 0, pointRadius: 4.2, order: 2},
    {data: P(iMild), backgroundColor: '#0D1DA3', borderWidth: 0, pointRadius: 4.2, order: 2},
    {data: P(iSevere), backgroundColor: '#990000', borderWidth: 0, pointRadius: 4.2, order: 2}
  ]}, options: {scales: {
    x: ax(-2.4, 99.3, [0, 25, 50, 75], {font: 14, color: '#4D4D4D'}),
    y: ax(-10.07, 39.55, [-10, 0, 10, 20, 30], {font: 14, color: '#4D4D4D'})
  }, plugins: {frame: {color: '#555', width: 1.2}}}});
})();
T('I', 1223, 1424, {size: 23, bold: true});
T('Total IgG (COI)', 1249, 1548, {size: 16, rot: -90});
T('Days post−symptom onset', 1506, 1686, {size: 17});
[['Asymptomatic', '#1F8A1F', 1539.3], ['Mild', '#0D1DA3', 1562.7], ['Severe', '#990000', 1585.7]].forEach(r => {
  K(1715, r[2] - 2, 22, 4, r[1]);
  K(1721.5, r[2] - 4.5, 9, 9, r[1], {borderRadius: '50%'});
  T(r[0], 1745, r[2], {size: 16, ax: 0});
});
</script>
</body></html>
